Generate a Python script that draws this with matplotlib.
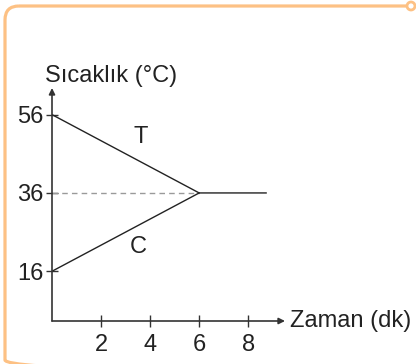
import matplotlib
matplotlib.use("Agg")
import matplotlib.pyplot as plt
from matplotlib.patches import FancyBboxPatch, Circle
from matplotlib.transforms import Affine2D

plt.rcParams['font.family'] = ['Liberation Sans', 'DejaVu Sans']

# data
time_T = [0, 6, 8.73]
temp_T = [56, 36, 36]
time_C = [0, 6]
temp_C = [16, 36]
time_eq = [0, 6]
temp_eq = [36, 36]
xticks = [2, 4, 6, 8]
yticks = [16, 36, 56]
ylabel = 'Sıcaklık (°C)'
xlabel = 'Zaman (dk)'

W, H = 416, 364
fig = plt.figure(figsize=(W / 100, H / 100), dpi=100)
fig.patch.set_facecolor('white')
px = Affine2D().scale(1 / W, -1 / H).translate(0, 1) + fig.transFigure

# frame
orange = '#FDC184'
frame = FancyBboxPatch((5, 6), 600, 368, boxstyle='round,pad=0,rounding_size=14',
                       transform=px, fill=False, edgecolor=orange, linewidth=2.3,
                       clip_on=False)
fig.patches.append(frame)
circ = Circle((411, 6), 4, transform=px, facecolor='white', edgecolor=orange,
              linewidth=2.0, clip_on=False)
fig.patches.append(circ)

# axes
x0, x1 = 52, 285
y0, y1 = 321, 88
ax = fig.add_axes([x0 / W, (H - y0) / H, (x1 - x0) / W, (y0 - y1) / H])
ax.set_facecolor('none')
ax.set_xlim(0, 9.5)
ax.set_ylim(3.3, 62.8)
for s in ax.spines.values():
    s.set_visible(False)

axc = '#333333'
ax.annotate('', xy=(1, 0), xytext=(0, 0), xycoords='axes fraction',
            arrowprops=dict(arrowstyle='-|>', color=axc, lw=1.2, mutation_scale=9,
                            shrinkA=0, shrinkB=0))
ax.annotate('', xy=(0, 1), xytext=(0, 0), xycoords='axes fraction',
            arrowprops=dict(arrowstyle='-|>', color=axc, lw=1.2, mutation_scale=9,
                            shrinkA=0, shrinkB=0))

ax.plot(time_eq, temp_eq, color='#9a9a9a', lw=1.0, dashes=(4, 3))
ax.plot(time_T, temp_T, color='#222222', lw=1.0, solid_joinstyle='miter')
ax.plot(time_C, temp_C, color='#222222', lw=1.0)

fs = 17
ax.set_xticks(xticks)
ax.set_yticks(yticks)
ax.tick_params(axis='both', direction='inout', color=axc, width=1.0,
               labelsize=fs, labelcolor='#222222')
ax.tick_params(axis='x', length=9, pad=5)
ax.tick_params(axis='y', length=8, pad=2)

ax.text(3.6, 50.3, 'T', fontsize=fs, color='#222222', ha='center', va='center')
ax.text(3.5, 22.2, 'C', fontsize=fs, color='#222222', ha='center', va='center')

fig.text(45 / W, 1 - 76 / H, ylabel, fontsize=fs, color='#222222',
         ha='left', va='center')
fig.text(290 / W, 1 - 321 / H, xlabel, fontsize=fs, color='#222222',
         ha='left', va='center')

fig.savefig('out.png', dpi=100, facecolor='white')
